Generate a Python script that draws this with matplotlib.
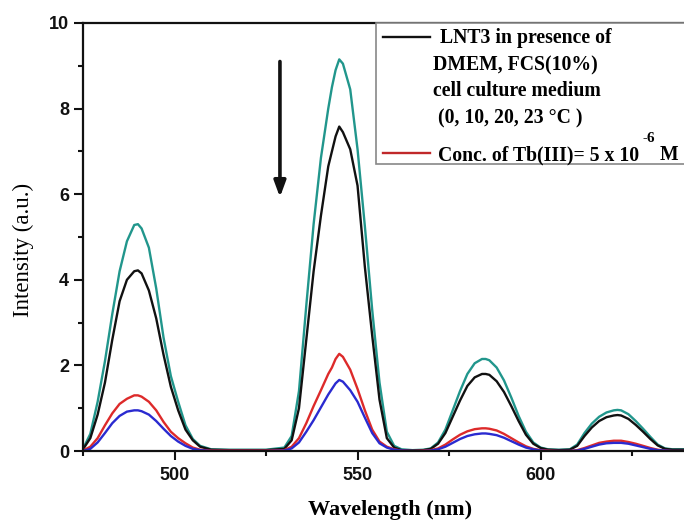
import matplotlib
matplotlib.use("Agg")
import matplotlib.pyplot as plt
from matplotlib.patches import Rectangle
from matplotlib.lines import Line2D
from matplotlib.ticker import MultipleLocator

# emission spectra, read at these wavelengths (nm)
wavelength = [
    475, 477, 479, 481, 483, 485, 487, 489, 490, 491, 493, 495, 497, 499, 501, 503, 505, 507, 510,
    515, 520, 525,
    530, 532, 534, 536, 538, 540, 542, 543, 544, 545, 546, 548, 550, 552, 554, 556, 558, 560, 562,
    565, 568,
    570, 572, 574, 576, 578, 580, 582, 584, 585, 586, 588, 590, 592, 594, 596, 598, 600, 602, 605,
    608, 610, 612, 614, 616, 618, 620, 621, 622, 624, 626, 628, 630, 632, 634, 636, 640,
]

teal = [
    0.05, 0.4, 1.15, 2.1, 3.2, 4.2, 4.9, 5.28, 5.3, 5.2, 4.75, 3.8, 2.65, 1.75, 1.15, 0.6, 0.28, 0.12, 0.04,
    0.03, 0.03, 0.03,
    0.08, 0.35, 1.4, 3.4, 5.3, 6.85, 8.0, 8.5, 8.9, 9.15, 9.05, 8.45, 7.05, 5.25, 3.3, 1.6, 0.45, 0.12, 0.04,
    0.02, 0.03,
    0.06, 0.2, 0.5, 0.95, 1.4, 1.8, 2.05, 2.15, 2.15, 2.12, 1.95, 1.65, 1.25, 0.82, 0.45, 0.2, 0.08, 0.04, 0.03,
    0.04, 0.15, 0.42, 0.64, 0.8, 0.9, 0.95, 0.96, 0.95, 0.86, 0.7, 0.52, 0.33, 0.15, 0.06, 0.04, 0.04,
]

black = [
    0.04, 0.3, 0.85, 1.6, 2.6, 3.5, 4.0, 4.2, 4.22, 4.15, 3.75, 3.1, 2.25, 1.5, 0.95, 0.5, 0.25, 0.1, 0.03,
    0.02, 0.02, 0.02,
    0.05, 0.25, 1.0, 2.6, 4.2, 5.5, 6.65, 7.0, 7.35, 7.58, 7.45, 7.05, 6.2, 4.3, 2.7, 1.2, 0.3, 0.08, 0.02,
    0.01, 0.02,
    0.05, 0.17, 0.42, 0.8, 1.18, 1.52, 1.72, 1.8, 1.8, 1.78, 1.63, 1.38, 1.05, 0.7, 0.38, 0.17, 0.07, 0.03, 0.02,
    0.03, 0.12, 0.35, 0.55, 0.7, 0.79, 0.83, 0.84, 0.83, 0.75, 0.61, 0.45, 0.28, 0.13, 0.05, 0.03, 0.03,
]

red = [
    0.01, 0.1, 0.3, 0.6, 0.88, 1.1, 1.22, 1.3, 1.3, 1.27, 1.15, 0.95, 0.68, 0.45, 0.3, 0.18, 0.08, 0.03, 0.01,
    0.01, 0.01, 0.01,
    0.02, 0.1, 0.3, 0.65, 1.05, 1.42, 1.8, 1.95, 2.15, 2.27, 2.2, 1.9, 1.45, 0.95, 0.5, 0.22, 0.1, 0.04, 0.01,
    0.0, 0.01,
    0.02, 0.06, 0.15, 0.27, 0.38, 0.46, 0.51, 0.53, 0.53, 0.52, 0.48, 0.4, 0.3, 0.2, 0.11, 0.05, 0.02, 0.01, 0.0,
    0.0, 0.02, 0.07, 0.13, 0.19, 0.22, 0.24, 0.24, 0.24, 0.21, 0.17, 0.12, 0.07, 0.03, 0.01, 0.0, 0.0,
]

blue = [
    0.0, 0.05, 0.2, 0.42, 0.65, 0.82, 0.92, 0.95, 0.95, 0.93, 0.85, 0.7, 0.52, 0.35, 0.22, 0.12, 0.05, 0.02, 0.0,
    0.0, 0.0, 0.0,
    0.01, 0.06, 0.2, 0.45, 0.72, 1.02, 1.32, 1.45, 1.58, 1.66, 1.62, 1.42, 1.15, 0.78, 0.42, 0.18, 0.08, 0.03, 0.01,
    0.0, 0.0,
    0.01, 0.04, 0.1, 0.19, 0.28, 0.35, 0.39, 0.41, 0.41, 0.4, 0.37, 0.31, 0.23, 0.15, 0.08, 0.04, 0.01, 0.0, 0.0,
    0.0, 0.01, 0.05, 0.1, 0.15, 0.18, 0.19, 0.19, 0.19, 0.17, 0.13, 0.09, 0.05, 0.02, 0.01, 0.0, 0.0,
]

legend_lines = ["LNT3 in presence of", "DMEM, FCS(10%)", "cell culture medium", " (0, 10, 20, 23 \u00b0C )"]
legend_conc = ["Conc. of Tb(III)= 5 x 10", "-6", " M"]

W, H = 684, 522
SERIF = "Liberation Serif"
SANS = "Liberation Sans"


def fx(x):
    return x / W


def fy(y):
    return 1 - y / H


fig = plt.figure(figsize=(W / 100, H / 100), dpi=100)
ax = fig.add_axes([fx(83), fy(451), 604 / W, (451 - 23) / H])

ax.plot(wavelength, teal, color="#21968c", lw=1.7)
ax.plot(wavelength, black, color="#111111", lw=1.7)
ax.plot(wavelength, red, color="#dd2a2a", lw=1.7)
ax.plot(wavelength, blue, color="#2a2ad0", lw=1.7)

ax.set_xlim(475, 640)
ax.set_ylim(0, 10)
ax.xaxis.set_major_locator(MultipleLocator(50))
ax.xaxis.set_minor_locator(MultipleLocator(25))
ax.yaxis.set_major_locator(MultipleLocator(2))
ax.yaxis.set_minor_locator(MultipleLocator(1))
ax.tick_params(which="both", direction="out", width=1.5, colors="#111111")
ax.tick_params(which="major", length=6.5, labelsize=13)
ax.tick_params(which="minor", length=3.5)
ax.tick_params(axis="x", pad=5)
for lab in ax.get_xticklabels() + ax.get_yticklabels():
    lab.set_fontfamily(SANS)
    lab.set_fontweight("bold")
for side in ("left", "bottom", "top"):
    ax.spines[side].set_linewidth(1.6)
    ax.spines[side].set_color("#111111")
ax.spines["right"].set_visible(False)

fig.text(fx(390), fy(510), "Wavelength (nm)", fontfamily=SERIF, fontweight="bold",
         fontsize=16, ha="center", va="center")
fig.text(fx(23), fy(250), "Intensity (a.u.)", fontfamily=SERIF, fontsize=16.5,
         rotation=90, ha="center", va="center")

# downward arrow marking the drop in intensity
ax.annotate("", xy=(528.8, 5.93), xytext=(528.8, 9.1),
            arrowprops=dict(arrowstyle="-|>,head_width=0.35,head_length=0.95",
                            color="#111111", lw=2.6, shrinkA=0, shrinkB=0))

# hand-built legend box in the upper right
fig.patches.append(Rectangle((fx(376), fy(164)), fx(700) - fx(376), fy(23) - fy(164),
                             transform=fig.transFigure, fill=True, facecolor="white",
                             edgecolor="#888888", lw=1.2, zorder=5))
fig.lines.append(Line2D([fx(383), fx(430)], [fy(37), fy(37)], transform=fig.transFigure,
                        color="#111111", lw=1.7, zorder=6))
fig.lines.append(Line2D([fx(383), fx(430)], [fy(153), fy(153)], transform=fig.transFigure,
                        color="#c0282a", lw=1.7, zorder=6))
line_x = [440, 433, 433, 433]
line_y = [38, 65, 91, 118]
for txt, x, y in zip(legend_lines, line_x, line_y):
    fig.text(fx(x), fy(y), txt, fontfamily=SERIF, fontweight="bold", fontsize=14.2,
             va="center", ha="left", zorder=7)

# concentration entry, with the exponent placed after the base text
renderer = fig.canvas.get_renderer()
base = fig.text(fx(438), fy(155), legend_conc[0], fontfamily=SERIF, fontweight="bold",
                fontsize=14.2, va="center", ha="left", zorder=7)
x_end = base.get_window_extent(renderer).x1
sup = fig.text(x_end / W + fx(3), fy(138), legend_conc[1], fontfamily=SERIF, fontweight="bold",
               fontsize=11, va="center", ha="left", zorder=7)
x_end = sup.get_window_extent(renderer).x1
fig.text(x_end / W, fy(155), legend_conc[2], fontfamily=SERIF, fontweight="bold",
         fontsize=14.2, va="center", ha="left", zorder=7)

fig.savefig("out.png", dpi=100)
